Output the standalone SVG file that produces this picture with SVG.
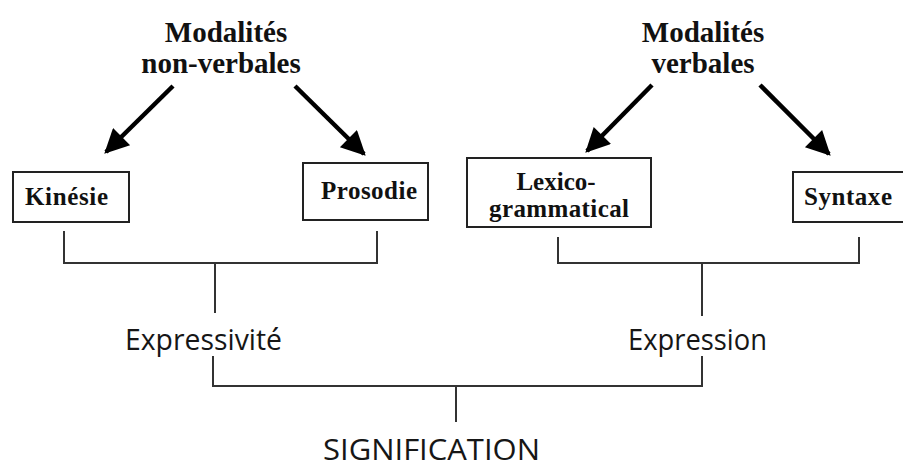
<svg xmlns="http://www.w3.org/2000/svg" width="903" height="462" viewBox="0 0 903 462">
  <style>
    .head { font-family: "Liberation Serif", "Times New Roman", serif; font-weight: bold; font-size: 29px; fill: #111; text-anchor: middle; }
    .box rect { fill: #fff; stroke: #222; stroke-width: 2; }
    .box text { font-family: "Liberation Serif", "Times New Roman", serif; font-weight: bold; font-size: 25px; fill: #111; }
    .lbl { font-family: "Open Sans", "Noto Sans", sans-serif; font-size: 29px; fill: #161616; }
    .wire { fill: none; stroke: #333; stroke-width: 2; }
    .arrow { stroke: #000; stroke-width: 4.5; fill: none; marker-end: url(#head); }
  </style>
  <defs>
    <marker id="head" viewBox="0 0 10 10" refX="9" refY="5" markerWidth="6" markerHeight="5.4" orient="auto" markerUnits="strokeWidth">
      <path d="M0,0 L10,5 L0,10 z" fill="#000"/>
    </marker>
  </defs>

  <rect width="903" height="462" fill="#fff"/>

  <!-- headings -->
  <g id="nonverbal">
    <text class="head" x="226" y="42">Modalités</text>
    <text class="head" x="221" y="73">non-verbales</text>
  </g>
  <g id="verbal">
    <text class="head" x="703" y="42">Modalités</text>
    <text class="head" x="703" y="73">verbales</text>
  </g>

  <!-- leaf boxes -->
  <g id="kinesie" class="box">
    <rect x="13" y="172" width="116" height="50"/>
    <text x="25" y="205" textLength="83">Kinésie</text>
  </g>
  <g id="prosodie" class="box">
    <rect x="303" y="163" width="125" height="57"/>
    <text x="321" y="199" textLength="96">Prosodie</text>
  </g>
  <g id="lexico" class="box">
    <rect x="467" y="158" width="184" height="69"/>
    <text x="556" y="190" text-anchor="middle">Lexico-</text>
    <text x="559" y="217" text-anchor="middle" textLength="140">grammatical</text>
  </g>
  <g id="syntaxe" class="box">
    <rect x="793" y="172" width="120" height="50"/>
    <text x="804" y="205" textLength="88">Syntaxe</text>
  </g>

  <!-- intermediate and final labels -->
  <g id="expressivite">
    <text class="lbl" x="125" y="350" textLength="157" lengthAdjust="spacingAndGlyphs">Expressivité</text>
  </g>
  <g id="expression">
    <text class="lbl" x="628" y="350" textLength="139" lengthAdjust="spacingAndGlyphs">Expression</text>
  </g>
  <g id="signification">
    <text class="lbl" x="323" y="460" font-size="31" textLength="217" lengthAdjust="spacingAndGlyphs">SIGNIFICATION</text>
  </g>

  <!-- connectors -->
  <g id="connectors">
    <line class="arrow" x1="173" y1="86" x2="106" y2="152"/>
    <line class="arrow" x1="295" y1="86" x2="364" y2="154"/>
    <line class="arrow" x1="652" y1="85" x2="587" y2="151"/>
    <line class="arrow" x1="760" y1="85" x2="829" y2="154"/>

    <path class="wire" d="M64,231 V263 H377 V231 M215,263 V313"/>
    <path class="wire" d="M558,237 V263 H859 V237 M702,263 V316"/>
    <path class="wire" d="M213,356 V386 H702 V356 M456,386 V422"/>
  </g>
</svg>
